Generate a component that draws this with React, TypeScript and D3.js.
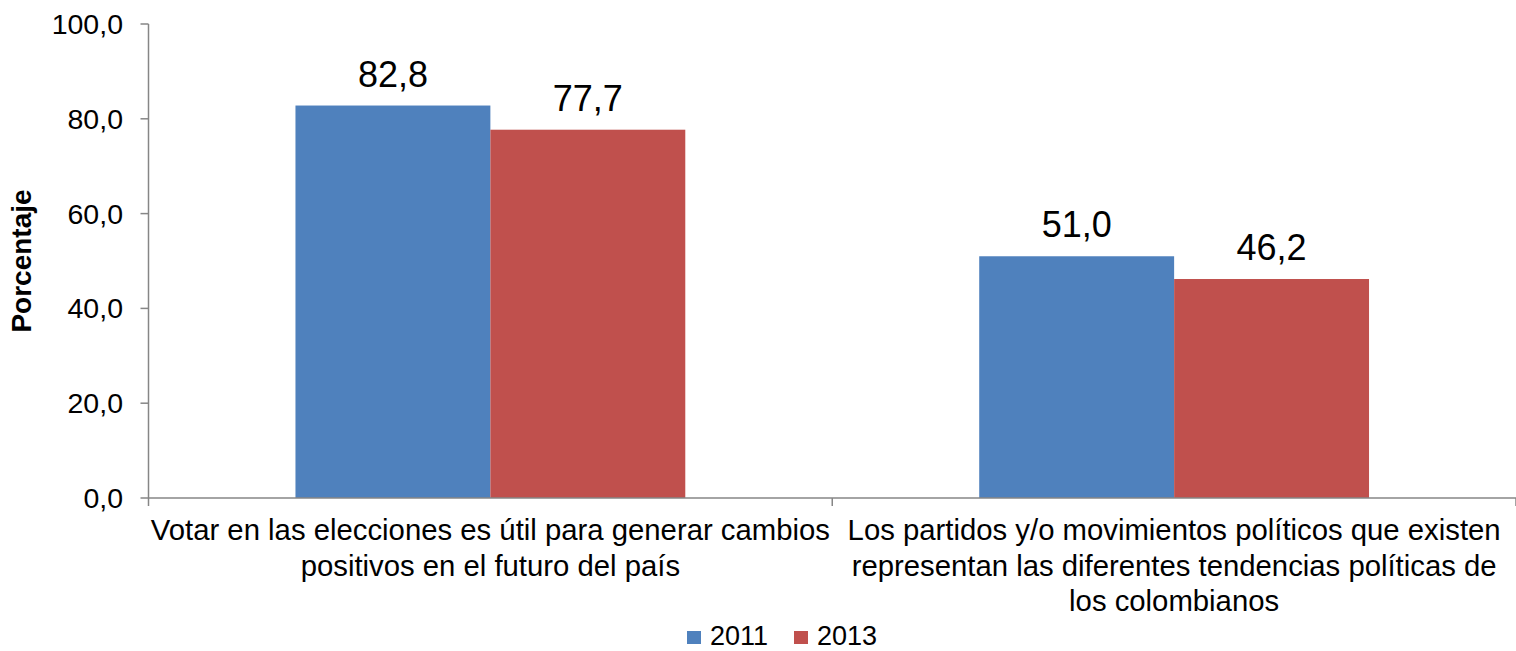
import React from "react";
import * as d3 from "d3";

const categories = [
  ["Votar en las elecciones es útil para generar cambios", "positivos en el futuro del país"],
  ["Los partidos y/o movimientos políticos que existen", "representan las diferentes tendencias políticas de", "los colombianos"],
];
const seriesNames = ["2011", "2013"];
const values2011 = [82.8, 51.0];
const values2013 = [77.7, 46.2];
const yTicks = [0, 20, 40, 60, 80, 100];
const colors = ["#4F81BD", "#C0504D"];

const W = 1516;
const H = 651;
const FONT = "'Liberation Sans', Arial, sans-serif";

export default function App() {
  const left = 148.5;
  const right = 1516;
  const top = 24;
  const bottom = 498;
  const y = d3.scaleLinear().domain([0, 100]).range([bottom, top]);
  const catIdx = categories.map((_, i) => String(i));
  const x0 = d3.scaleBand().domain(catIdx).range([left, right]).paddingInner(0).paddingOuter(0);
  const x1 = d3.scaleBand().domain(seriesNames).range([0, x0.bandwidth()]).paddingInner(0).paddingOuter(0.754);
  const series = [values2011, values2013];
  const fmt = (v: number) => v.toFixed(1).replace(".", ",");
  const axisColor = "#868686";

  return (
    <svg width={W} height={H} style={{ position: "fixed", top: 0, left: 0, background: "#fff" }} fontFamily={FONT}>
      {/* bars */}
      {catIdx.map((c, ci) =>
        seriesNames.map((s, si) => {
          const v = series[si][ci];
          const bx = (x0(c) as number) + (x1(s) as number);
          return (
            <g key={c + s}>
              <rect x={bx} y={y(v)} width={x1.bandwidth()} height={bottom - y(v)} fill={colors[si]} />
              <text x={bx + x1.bandwidth() / 2} y={y(v) - 19} textAnchor="middle" fontSize={36} fill="#000">
                {fmt(v)}
              </text>
            </g>
          );
        })
      )}
      {/* y axis */}
      <line x1={left} x2={left} y1={top} y2={bottom} stroke={axisColor} strokeWidth={1.5} />
      {yTicks.map((t) => (
        <g key={t}>
          <line x1={left - 8} x2={left} y1={y(t)} y2={y(t)} stroke={axisColor} strokeWidth={1.5} />
          <text x={123} y={y(t)} dy="0.35em" textAnchor="end" fontSize={28.5} fill="#000">
            {fmt(t)}
          </text>
        </g>
      ))}
      {/* x axis */}
      <line x1={left} x2={right} y1={bottom} y2={bottom} stroke={axisColor} strokeWidth={1.5} />
      {[left, ...catIdx.map((c) => (x0(c) as number) + x0.bandwidth())].map((tx, i) => (
        <line key={i} x1={tx} x2={tx} y1={bottom} y2={bottom + 8} stroke={axisColor} strokeWidth={1.5} />
      ))}
      {categories.map((lines, ci) => (
        <text key={ci} textAnchor="middle" fontSize={29.3} fill="#000">
          {lines.map((ln, li) => (
            <tspan key={li} x={(x0(String(ci)) as number) + x0.bandwidth() / 2} y={540 + li * 35.5}>
              {ln}
            </tspan>
          ))}
        </text>
      ))}
      {/* y title */}
      <text transform={`translate(31, ${y(50)}) rotate(-90)`} textAnchor="middle" fontSize={28} fontWeight="bold" fill="#000">
        Porcentaje
      </text>
      {/* legend */}
      {seriesNames.map((s, i) => {
        const lx = 687 + i * 107;
        return (
          <g key={s}>
            <rect x={lx} y={631} width={14} height={13} fill={colors[i]} />
            <text x={lx + 23} y={645} fontSize={27} fill="#000">
              {s}
            </text>
          </g>
        );
      })}
    </svg>
  );
}
